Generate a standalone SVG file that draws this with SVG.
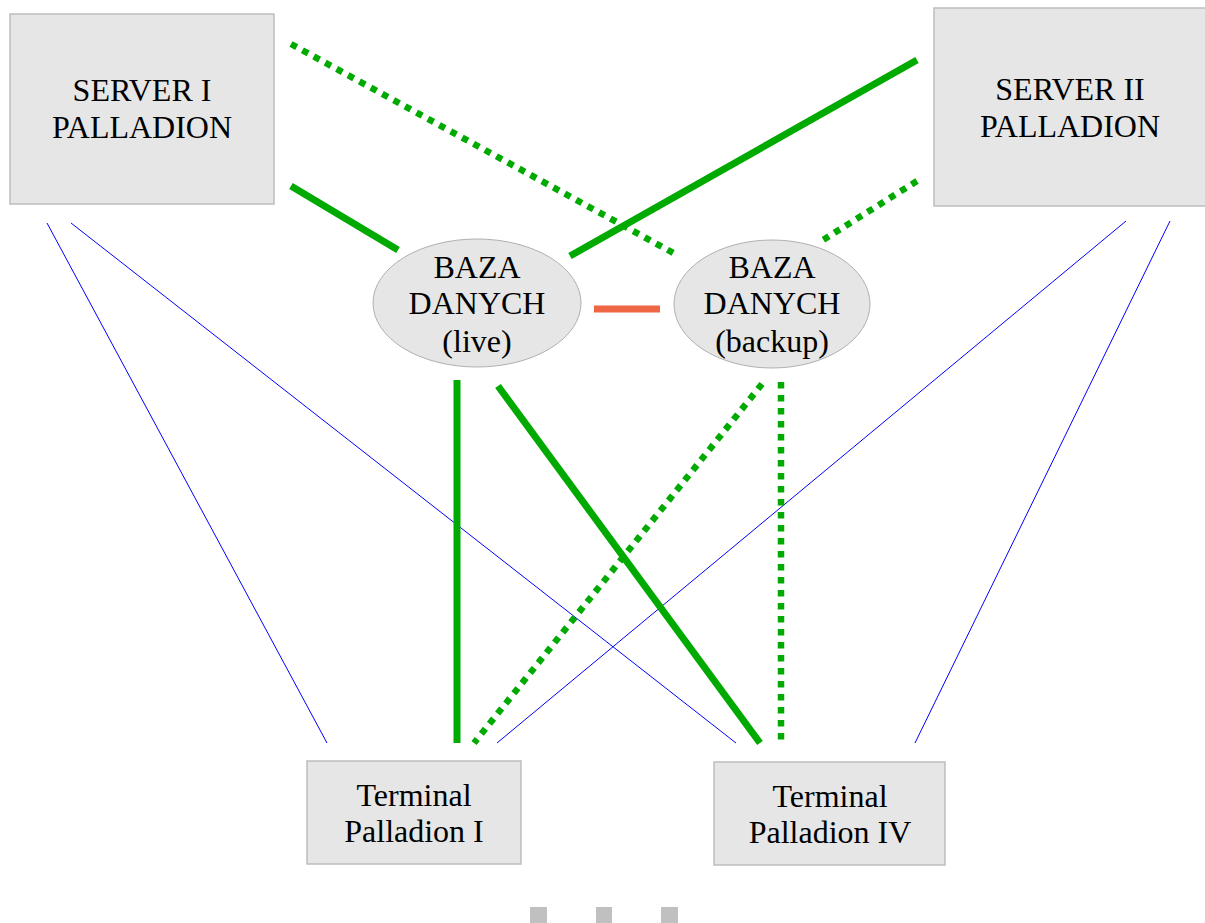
<svg xmlns="http://www.w3.org/2000/svg" width="1205" height="923" viewBox="0 0 1205 923">
<style>
.box{fill:#e6e6e6;stroke:#bdbdbd;stroke-width:1.5}
.t{font-family:"Liberation Serif","Times New Roman",serif;fill:#000;text-anchor:middle;font-size:32px}
.s{stroke:#00aa00;stroke-width:7;fill:none}
.d{stroke:#00aa00;stroke-width:6.5;stroke-dasharray:6.5 6.5;fill:none}
.b{stroke:#0000ff;stroke-width:1;fill:none}
.o{stroke:#ee6644;stroke-width:7;fill:none}
.sq{fill:#c0c0c0}
</style>
<rect width="1205" height="923" fill="#fff"/>
<g id="connectors">
<line class="b" x1="47" y1="223" x2="327" y2="743"/>
<line class="b" x1="71" y1="223" x2="736" y2="743"/>
<line class="b" x1="1126" y1="221" x2="497" y2="743"/>
<line class="b" x1="1170" y1="221" x2="915" y2="743"/>
<line class="s" x1="291" y1="186" x2="398" y2="250"/>
<line class="s" x1="917" y1="60" x2="570" y2="256"/>
<line class="s" x1="457" y1="380" x2="457" y2="743"/>
<line class="s" x1="498" y1="386" x2="760" y2="743"/>
<line class="d" x1="291" y1="44" x2="677" y2="255"/>
<line class="d" x1="917" y1="181" x2="823" y2="240"/>
<line class="d" x1="762" y1="384" x2="474" y2="743"/>
<line class="d" x1="781" y1="382" x2="781" y2="743"/>
<line class="o" x1="594" y1="309" x2="660" y2="309"/>
</g>
<g id="server1">
<rect class="box" x="10" y="14" width="264" height="190"/>
<text class="t"><tspan x="142" y="101">SERVER I</tspan><tspan x="142" y="138">PALLADION</tspan></text>
</g>
<g id="server2">
<rect class="box" x="934" y="8" width="280" height="198"/>
<text class="t"><tspan x="1070" y="100">SERVER II</tspan><tspan x="1070" y="137">PALLADION</tspan></text>
</g>
<g id="db-live">
<ellipse class="box" cx="477" cy="303" rx="104" ry="64" style="stroke:#b0b0b0;stroke-width:1"/>
<text class="t"><tspan x="477" y="278">BAZA</tspan><tspan x="477" y="314">DANYCH</tspan><tspan x="477" y="352">(live)</tspan></text>
</g>
<g id="db-backup">
<ellipse class="box" cx="772" cy="304" rx="98" ry="64" style="stroke:#b0b0b0;stroke-width:1"/>
<text class="t"><tspan x="772" y="278">BAZA</tspan><tspan x="772" y="314">DANYCH</tspan><tspan x="772" y="352">(backup)</tspan></text>
</g>
<g id="terminal1">
<rect class="box" x="307" y="761" width="214" height="103"/>
<text class="t"><tspan x="414" y="806">Terminal</tspan><tspan x="414" y="842">Palladion I</tspan></text>
</g>
<g id="terminal4">
<rect class="box" x="714" y="762" width="231" height="103"/>
<text class="t"><tspan x="830" y="807">Terminal</tspan><tspan x="830" y="843">Palladion IV</tspan></text>
</g>
<g id="ellipsis">
<rect class="sq" x="530" y="907" width="17" height="16"/>
<rect class="sq" x="596" y="907" width="16" height="16"/>
<rect class="sq" x="661" y="907" width="17" height="16"/>
</g>
</svg>
